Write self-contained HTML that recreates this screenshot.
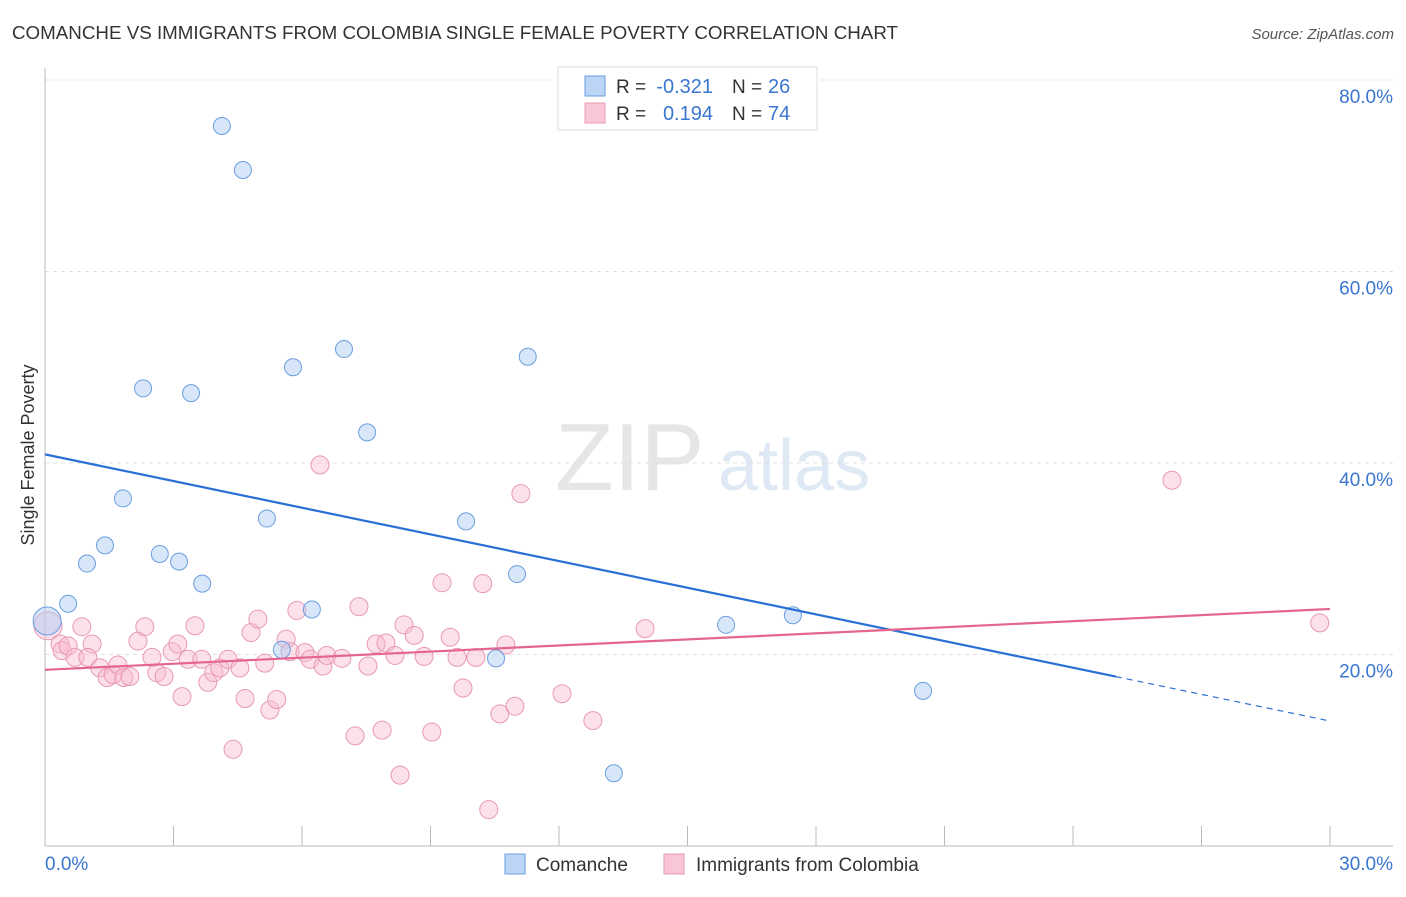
<!DOCTYPE html>
<html><head><meta charset="utf-8"><style>
body{margin:0;background:#fff;font-family:"Liberation Sans",sans-serif;}
svg text{font-family:"Liberation Sans",sans-serif;}
</style></head><body>
<svg id="chart" width="1406" height="892">
<text x="12" y="39" font-size="18" fill="#333" textLength="886" lengthAdjust="spacingAndGlyphs">COMANCHE VS IMMIGRANTS FROM COLOMBIA SINGLE FEMALE POVERTY CORRELATION CHART</text>
<text x="1394" y="39" font-size="15" fill="#555" text-anchor="end" font-style="italic">Source: ZipAtlas.com</text>
<text x="555" y="490" font-size="96" fill="#e6e6e6" font-family="Liberation Serif">ZIP</text>
<text x="718" y="490" font-size="72" fill="#dfe8f5">atlas</text>
<g id="grid"></g>
<g id="axes"></g>
<g id="marks"></g>
<text transform="translate(34,455) rotate(-90)" font-size="18" fill="#333" text-anchor="middle">Single Female Poverty</text>
<g>
<rect x="558" y="67" width="259" height="63" fill="#fff" stroke="#ddd"/>
<rect x="585" y="76" width="20" height="20" fill="#bcd4f5" stroke="#6a9ee0"/>
<rect x="585" y="103" width="20" height="20" fill="#f9c6d6" stroke="#e899b4"/>
<text x="616" y="93" font-size="19" fill="#333">R =</text>
<text x="713" y="93" font-size="20" fill="#3a76d0" text-anchor="end">-0.321</text>
<text x="732" y="93" font-size="19" fill="#333">N =</text>
<text x="768" y="93" font-size="20" fill="#3a76d0">26</text>
<text x="616" y="120" font-size="19" fill="#333">R =</text>
<text x="713" y="120" font-size="20" fill="#3a76d0" text-anchor="end">0.194</text>
<text x="732" y="120" font-size="19" fill="#333">N =</text>
<text x="768" y="120" font-size="20" fill="#3a76d0">74</text>
</g>
<g>
<rect x="505" y="854" width="20" height="20" fill="#bcd4f5" stroke="#6a9ee0"/>
<text x="536" y="871" font-size="19" fill="#333">Comanche</text>
<rect x="664" y="854" width="20" height="20" fill="#f9c6d6" stroke="#e899b4"/>
<text x="696" y="871" font-size="19" fill="#333">Immigrants from Colombia</text>
</g>
</svg>
<script>
const yTicks=[80,60,40,20];
const yTickLabels=["80.0%","60.0%","40.0%","20.0%"];
const xTicks=[0,3,6,9,12,15,18,21,24,27,30];
const blueX=[0.05,0.54,0.98,1.4,1.82,2.29,2.68,3.13,3.41,3.67,4.13,4.62,5.18,5.53,5.79,6.23,6.98,7.52,9.83,10.53,11.02,11.27,13.28,15.9,17.46,20.5];
const blueY=[23.5,25.3,29.5,31.4,36.3,47.8,30.5,29.7,47.3,27.4,75.2,70.6,34.2,20.5,50.0,24.7,51.9,43.2,33.9,19.6,28.4,51.1,7.6,23.1,24.1,16.2];
const pinkX=[0.07,0.35,0.4,0.54,0.7,0.86,1.1,1.0,1.28,1.45,1.59,1.7,1.84,1.98,2.17,2.33,2.5,2.61,2.78,2.97,3.1,3.2,3.34,3.5,3.66,3.8,3.94,4.08,4.27,4.39,4.55,4.67,4.81,4.97,5.13,5.25,5.41,5.63,5.72,5.88,6.07,6.19,6.42,6.49,6.58,6.93,7.24,7.33,7.54,7.73,7.87,7.96,8.17,8.29,8.38,8.62,8.85,9.03,9.27,9.46,9.62,9.76,10.06,10.22,10.36,10.62,10.76,10.97,11.11,12.07,12.79,14.01,26.31,29.76];
const pinkY=[23.0,21.1,20.4,20.9,19.7,22.9,21.1,19.7,18.6,17.6,17.9,18.9,17.6,17.7,21.4,22.9,19.7,18.1,17.7,20.3,21.1,15.6,19.5,23.0,19.5,17.1,18.1,18.6,19.5,10.1,18.6,15.4,22.3,23.7,19.1,14.2,15.3,21.6,20.3,24.6,20.2,19.5,39.8,18.8,19.9,19.6,11.5,25.0,18.8,21.1,12.1,21.2,19.9,7.4,23.1,22.0,19.8,11.9,27.5,21.8,19.7,16.5,19.7,27.4,3.8,13.8,21.0,14.6,36.8,15.9,13.1,22.7,38.2,23.3];
const blueLine=[40.9,13.05];
const pinkLine=[18.4,24.75];
const X0=45,X1=1330,Y0=846,Ypx=9.575;
function xs(v){return X0+(v-0)/30*(X1-X0);}
function ys(v){return Y0-v*Ypx;}
const NS="http://www.w3.org/2000/svg";
function mk(tag,attrs,parent){const e=document.createElementNS(NS,tag);for(const k in attrs)e.setAttribute(k,attrs[k]);parent.appendChild(e);return e;}
const grid=document.getElementById('grid'),axes=document.getElementById('axes'),marks=document.getElementById('marks');
yTicks.forEach((t,i)=>{
 const l=mk('line',{x1:45,x2:1393,y1:ys(t),y2:ys(t),stroke:'#e0e0e0','stroke-dasharray':'4,4'},grid);
 
 
 const tx=mk('text',{x:1393,y:ys(t)+23,'font-size':19,fill:'#3a76d0','text-anchor':'end'},axes);
 tx.textContent=yTickLabels[i];
 
 
});
const ya=mk('line',{x1:45,x2:45,y1:68,y2:846,stroke:'#bbb'},axes);


const xa=mk('line',{x1:45,x2:1393,y1:846,y2:846,stroke:'#bbb'},axes);


xTicks.forEach(t=>{
 const l=mk('line',{x1:xs(t),x2:xs(t),y1:826,y2:846,stroke:'#bbb'},axes);
 
 
});
[[0,"0.0%","start",45],[30,"30.0%","end",1393]].forEach(d=>{
 const tx=mk('text',{x:d[3],y:870,'font-size':19,fill:'#3a76d0','text-anchor':d[2]},axes);
 tx.textContent=d[1];
 
 
});
pinkX.forEach((v,i)=>{
 const r=i===0?14:9;
 const c=mk('circle',{cx:xs(v),cy:ys(pinkY[i]),r:r,fill:'rgba(248,187,208,0.45)',stroke:'#e899b4','stroke-width':1},marks);
 
 
});
blueX.forEach((v,i)=>{
 const r=i===0?14:8.5;
 const c=mk('circle',{cx:xs(v),cy:ys(blueY[i]),r:r,fill:'rgba(175,205,242,0.5)',stroke:'#6a9ee0','stroke-width':1},marks);
 
 
});
const bAt=x=>blueLine[0]+(blueLine[1]-blueLine[0])*x/30;
const bl=mk('line',{x1:xs(0),y1:ys(bAt(0)),x2:xs(25),y2:ys(bAt(25)),stroke:'#2a6fd6','stroke-width':2.2},marks);


const bd=mk('line',{x1:xs(25),y1:ys(bAt(25)),x2:xs(30),y2:ys(bAt(30)),stroke:'#2a6fd6','stroke-width':1.2,'stroke-dasharray':'6,5'},marks);


const pl=mk('line',{x1:xs(0),y1:ys(pinkLine[0]),x2:xs(30),y2:ys(pinkLine[1]),stroke:'#e46690','stroke-width':2.2},marks);


</script>
</body></html>
